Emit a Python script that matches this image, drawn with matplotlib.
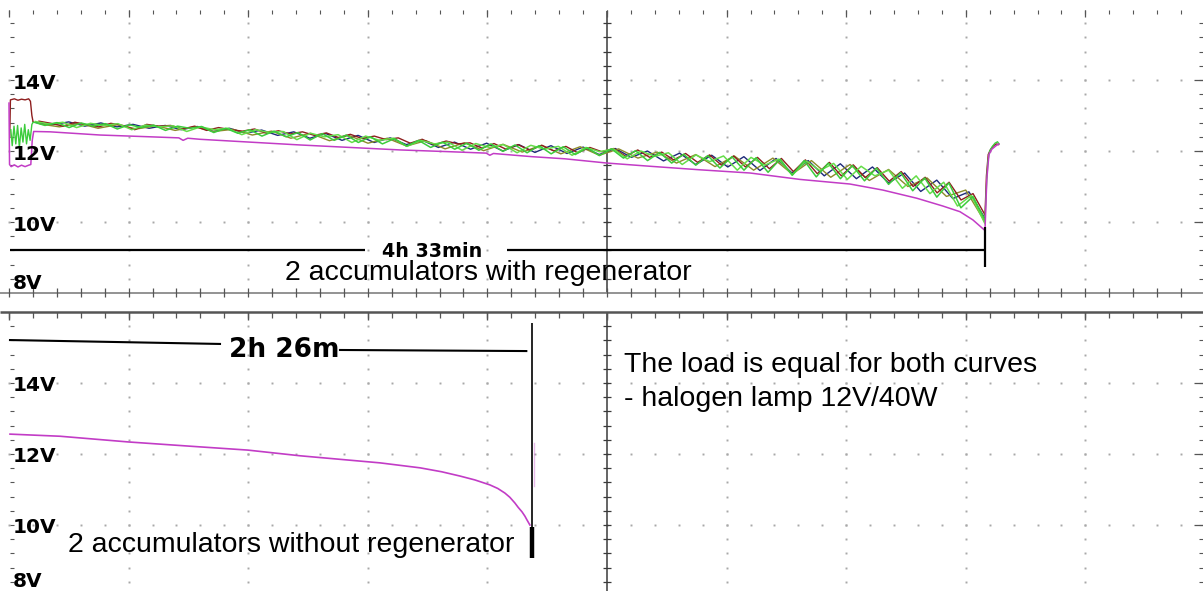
import matplotlib
matplotlib.use("Agg")

import matplotlib.pyplot as plt
import numpy as np

plt.rcParams["font.family"] = ["Liberation Sans", "DejaVu Sans"]

# ---------------- data (time in minutes, voltage in volts) ----------------
volt_labels = [14, 12, 10, 8]
run_with_regen = 273      # 4h 33min
run_without_regen = 146   # 2h 26m

# upper screen: 2 accumulators with regenerator
# start of record (charger still on) - first few minutes
maroon_start_t = [0.2, 0.4, 1.5, 2.5, 3.5, 4.5, 5.5, 6.0, 6.4, 6.7]
maroon_start_v = [12.4, 13.44, 13.47, 13.43, 13.46, 13.44, 13.47, 13.40, 13.0, 12.84]
green_start_t = [0.5, 0.9, 1.4, 1.9, 2.4, 2.9, 3.4, 3.9, 4.4, 4.9, 5.4, 5.9, 6.4, 6.7]
green_start_v = [12.6, 12.15, 12.7, 12.2, 12.72, 12.1, 12.65, 12.25, 12.75, 12.2, 12.6, 12.3,
                 12.75, 12.8]

# noisy channels, sampled evenly from BAND_T0 to BAND_T1
BAND_T0, BAND_T1 = 6.7, 273.0
green_v = [12.82, 12.72, 12.80, 12.66, 12.79, 12.70, 12.77, 12.62, 12.74, 12.66,
           12.73, 12.58, 12.70, 12.64, 12.69, 12.52, 12.64, 12.50, 12.60, 12.42,
           12.56, 12.40, 12.52, 12.31, 12.49, 12.30, 12.45, 12.24, 12.40, 12.20,
           12.35, 12.14, 12.30, 12.10, 12.25, 12.05, 12.22, 12.02, 12.20, 11.99,
           12.17, 11.95, 12.15, 11.92, 12.12, 11.90, 12.09, 11.87, 12.06, 11.80,
           12.01, 11.73, 11.96, 11.66, 11.91, 11.60, 11.87, 11.52, 11.84, 11.46,
           11.81, 11.40, 11.77, 11.32, 11.73, 11.27, 11.66, 11.22, 11.59, 11.16,
           11.52, 11.06, 11.39, 10.88, 11.24, 10.70, 11.10, 10.40, 10.72, 10.05]
lime_v = [12.83, 12.76, 12.81, 12.66, 12.78, 12.72, 12.77, 12.60, 12.73, 12.68,
          12.71, 12.55, 12.68, 12.60, 12.64, 12.46, 12.60, 12.52, 12.55, 12.32,
          12.50, 12.40, 12.46, 12.24, 12.42, 12.30, 12.36, 12.13, 12.30, 12.20,
          12.25, 12.02, 12.21, 12.10, 12.18, 11.95, 12.16, 12.05, 12.13, 11.88,
          12.10, 11.98, 12.06, 11.78, 12.00, 11.85, 11.95, 11.62, 11.89, 11.70,
          11.86, 11.46, 11.82, 11.60, 11.77, 11.32, 11.72, 11.45, 11.65, 11.20,
          11.57, 11.30, 11.46, 10.95, 11.30, 10.80, 11.12, 10.45, 10.75, 9.95]
maroon_v = [12.84, 12.78, 12.70, 12.81, 12.74, 12.68, 12.78, 12.72, 12.60, 12.75,
            12.70, 12.72, 12.62, 12.70, 12.58, 12.66, 12.60, 12.56, 12.62, 12.50,
            12.57, 12.48, 12.54, 12.44, 12.51, 12.38, 12.47, 12.35, 12.42, 12.32,
            12.37, 12.22, 12.33, 12.18, 12.28, 12.20, 12.23, 12.08, 12.21, 12.05,
            12.18, 12.02, 12.16, 12.00, 12.13, 11.95, 12.10, 11.98, 12.07, 11.85,
            12.03, 11.82, 11.97, 11.75, 11.93, 11.68, 11.89, 11.60, 11.86, 11.55,
            11.82, 11.50, 11.79, 11.42, 11.75, 11.36, 11.68, 11.30, 11.61, 11.25,
            11.53, 11.15, 11.42, 11.00, 11.26, 10.82, 11.12, 10.62, 10.80, 10.20]
navy_v = [12.80, 12.74, 12.82, 12.70, 12.79, 12.68, 12.75, 12.64, 12.72, 12.60,
          12.69, 12.55, 12.64, 12.50, 12.59, 12.44, 12.54, 12.36, 12.49, 12.30,
          12.44, 12.24, 12.37, 12.18, 12.30, 12.10, 12.25, 12.05, 12.22, 12.00,
          12.18, 11.96, 12.15, 11.93, 12.11, 11.90, 12.07, 11.82, 12.00, 11.72,
          11.94, 11.62, 11.88, 11.55, 11.84, 11.45, 11.79, 11.38, 11.73, 11.30,
          11.64, 11.22, 11.55, 11.10, 11.38, 10.86, 11.18, 10.66, 10.85, 10.10]
olive_v = [12.76, 12.68, 12.78, 12.64, 12.74, 12.62, 12.71, 12.58, 12.68, 12.55,
           12.61, 12.45, 12.56, 12.36, 12.50, 12.29, 12.44, 12.22, 12.36, 12.14,
           12.29, 12.06, 12.23, 12.01, 12.19, 11.97, 12.16, 11.92, 12.12, 11.88,
           12.06, 11.80, 11.97, 11.66, 11.90, 11.56, 11.86, 11.46, 11.80, 11.35,
           11.73, 11.26, 11.62, 11.17, 11.48, 11.00, 11.24, 10.72, 10.90, 10.00]

# recovery after the load was switched off
green_end_t = [273.0, 273.4, 273.8, 274.3, 275.0, 275.8, 276.5, 276.9]
green_end_v = [10.05, 11.0, 11.7, 12.0, 12.12, 12.22, 12.26, 12.2]
maroon_end_t = [273.0, 273.4, 273.9, 274.6, 275.4, 276.2, 276.8]
maroon_end_v = [10.20, 11.3, 11.9, 12.05, 12.15, 12.2, 12.18]

top_magenta_t = [0.0, 0.15, 0.6, 1.5, 2.5, 3.5, 4.5, 5.5, 6.1, 6.5, 6.9,
                 11.5, 25.5, 39.4, 47.5, 48.7, 50.0, 53.4, 67.4, 81.4, 95.4, 109.4, 123.3,
                 133.5, 134.5, 135.5, 146.3, 155.5, 167.3, 179.3, 193.3, 207.3, 221.2,
                 235.2, 244.4, 253.9, 261.2, 266.0, 269.6, 273.0,
                 273.5, 274.1, 274.9, 276.1, 276.9]
top_magenta_v = [13.35, 11.62, 11.56, 11.61, 11.55, 11.6, 11.56, 11.6, 11.62, 12.3, 12.55,
                 12.54, 12.45, 12.40, 12.37, 12.30, 12.36, 12.33, 12.25, 12.17, 12.10, 12.03, 11.98,
                 11.94, 11.88, 11.93, 11.84, 11.78, 11.66, 11.57, 11.47, 11.38, 11.20,
                 11.07, 10.90, 10.67, 10.45, 10.29, 10.06, 9.76,
                 11.2, 11.9, 12.05, 12.15, 12.2]

# lower screen: 2 accumulators without regenerator
bot_magenta_t = [0.28, 14.3, 33.3, 50.6, 66.8, 81.4, 92.6, 103.8, 115.0, 121.0, 126.1,
                 130.3, 134.5, 136.7, 138.7, 140.1, 141.5, 142.4, 143.5, 144.3, 144.9, 145.7]
bot_magenta_v = [12.56, 12.50, 12.34, 12.22, 12.11, 11.95, 11.85, 11.75, 11.61, 11.50, 11.38,
                 11.27, 11.13, 11.03, 10.90, 10.78, 10.62, 10.50, 10.37, 10.25, 10.14, 10.00]
bot_tail_t = [146.9, 146.9]
bot_tail_v = [12.3, 11.1]

# ---------------- screen geometry ----------------
W_PX, H_PX = 1203, 591
PX_PER_V = 35.5
MIN_PER_PX = run_with_regen / 976.0
MIN_PER_DIV = 119.6 * MIN_PER_PX
X0_PX = 9


def px_t(n):
    return n * MIN_PER_PX


def px_v(n):
    return n / PX_PER_V


t_lo = -X0_PX * MIN_PER_PX
t_hi = (W_PX - X0_PX) * MIN_PER_PX
center_t = 5 * MIN_PER_DIV
majors_t = np.arange(11) * MIN_PER_DIV
minors_t = np.arange(51) * MIN_PER_DIV / 5
minors_v = 8 + np.arange(21) * 0.4

DOT = dict(ls="none", marker="s", ms=1.4, mew=0, color="#a8a8a8")
TICK = "#555555"
AXIS = "#3a3a3a"

fig = plt.figure(figsize=(W_PX / 100, H_PX / 100), dpi=100)
ax_top = fig.add_axes([0, (H_PX - 300) / H_PX, 1, 300 / H_PX])
ax_top.set_ylim(8 - px_v(7), 8 + px_v(293))
ax_bot = fig.add_axes([0, 0, 1, 288 / H_PX])
ax_bot.set_ylim(16 - px_v(279), 16 + px_v(9))


def screen(ax, v_min, v_max):
    ax.set_xlim(t_lo, t_hi)
    ax.set_axis_off()
    vs = minors_v[(minors_v > v_min + 0.01) & (minors_v < v_max - 0.01)]
    # dotted graticule
    for t in majors_t[1:-1]:
        if abs(t - center_t) < 1e-6:
            continue
        ax.plot(np.full(len(vs), t), vs, **DOT)
    for v in (10, 12, 14):
        ax.plot(minors_t, np.full(len(minors_t), v), **DOT)
    # edge ticks
    ax.hlines(vs, px_t(1), px_t(5), color=TICK, lw=0.8)
    ax.hlines(vs, t_hi - px_t(4), t_hi, color=TICK, lw=0.8)
    ax.hlines([10, 12, 14], t_hi - px_t(9), t_hi, color=TICK, lw=0.9)
    # centre axis
    ax.vlines(center_t, v_min, v_max, color=AXIS, lw=1.1)
    ax.hlines(vs, center_t - px_t(4), center_t + px_t(4), color=AXIS, lw=0.9)


screen(ax_top, 8, 15.95)
screen(ax_bot, 8.1, 16)

# top screen: tick row at top, axis at 8V
ax_top.vlines(minors_t, 16 - px_v(5), 16 - px_v(1), color=TICK, lw=0.8)
ax_top.vlines(majors_t, 16 - px_v(8), 16 - px_v(1), color=TICK, lw=0.9)
ax_top.hlines(8, t_lo, t_hi, color="#8a8a8a", lw=1.3)
ax_top.vlines(minors_t, 8 - px_v(4), 8 + px_v(5), color=TICK, lw=0.9)

# bottom screen: axis at 16V with downward ticks
ax_bot.hlines(16, t_lo, t_hi, color="#555555", lw=1.8)
ax_bot.vlines(minors_t, 16 - px_v(6), 16, color=TICK, lw=0.9)
ax_bot.vlines(majors_t, 16 - px_v(8), 16, color=TICK, lw=1.0)

# ---------------- traces ----------------
MAGENTA = "#c23cc6"
GREEN = "#3ccc3c"
LIME = "#66dd4a"
MAROON = "#8e1e1e"
NAVY = "#1e2a7a"
OLIVE = "#8c8a2a"

step = (BAND_T1 - BAND_T0) / (len(green_v) - 1)
ax_top.plot(np.linspace(BAND_T0 + step * 0.3, BAND_T1, len(navy_v)), navy_v, color=NAVY, lw=1.0)
ax_top.plot(np.linspace(BAND_T0 + step * 0.6, BAND_T1, len(olive_v)), olive_v, color=OLIVE, lw=1.0)
ax_top.plot(np.linspace(BAND_T0 + step * 0.5, BAND_T1, len(maroon_v)), maroon_v, color=MAROON, lw=1.0)
ax_top.plot(np.linspace(BAND_T0 + step * 0.2, BAND_T1, len(lime_v)), lime_v, color=LIME, lw=1.1)
ax_top.plot(np.linspace(BAND_T0, BAND_T1, len(green_v)), green_v, color=GREEN, lw=1.1)
ax_top.plot(maroon_start_t, maroon_start_v, color=MAROON, lw=1.0)
ax_top.plot(green_start_t, green_start_v, color=GREEN, lw=1.0)
ax_top.plot(maroon_end_t, maroon_end_v, color=MAROON, lw=1.0)
ax_top.plot(green_end_t, green_end_v, color=GREEN, lw=1.0)
ax_top.plot(top_magenta_t, top_magenta_v, color=MAGENTA, lw=1.1)

ax_bot.plot(bot_magenta_t, bot_magenta_v, color=MAGENTA, lw=1.2)
ax_bot.plot(bot_tail_t, bot_tail_v, color=MAGENTA, lw=1.0, alpha=0.35)

# ---------------- annotations ----------------
LBL = dict(family="DejaVu Sans", fontweight="bold", fontsize=14.5, ha="left", va="baseline")
for v in volt_labels:
    ax_top.text(px_t(4), v - 0.24 if v > 8 else 8.12, f"{v}V", **LBL)
    ax_bot.text(px_t(4), v - 0.22 if v > 8 else 8.24, f"{v}V", **LBL)

# duration marker, upper screen
dim_v = 9.21
ax_top.hlines(dim_v, px_t(1), px_t(356), color="black", lw=1.6)
ax_top.hlines(dim_v, px_t(498), run_with_regen, color="black", lw=1.6)
ax_top.vlines(run_with_regen, 8.73, 9.86, color="black", lw=1.6)
ax_top.text(px_t(373), 9.01, f"{run_with_regen // 60}h {run_with_regen % 60}min",
            family="DejaVu Sans", fontweight="bold", fontsize=13.8, ha="left", va="baseline")
ax_top.text(px_t(276), 8.37, "2 accumulators with regenerator",
            fontsize=20.5, ha="left", va="baseline")

# duration marker, lower screen
ax_bot.plot([px_t(1), px_t(211)], [15.21, 15.10], color="black", lw=1.5)
ax_bot.plot([px_t(331), run_without_regen - 1.3], [14.93, 14.90], color="black", lw=1.5)
ax_bot.vlines(run_without_regen + 0.3, 9.94, 15.69, color="black", lw=1.2)
ax_bot.vlines(run_without_regen + 0.3, 9.07, 9.94, color="black", lw=3.2)
ax_bot.text(px_t(220), 14.73, f"{run_without_regen // 60}h {run_without_regen % 60}m",
            family="DejaVu Sans", fontweight="bold", fontsize=19, ha="left", va="baseline")
ax_bot.text(px_t(59), 9.24, "2 accumulators without regenerator",
            fontsize=20.5, ha="left", va="baseline")

ax_bot.text(px_t(615), 14.31, "The load is equal for both curves",
            fontsize=20.5, ha="left", va="baseline")
ax_bot.text(px_t(615), 13.35, "- halogen lamp 12V/40W",
            fontsize=20.5, ha="left", va="baseline")

fig.savefig("out.png", dpi=100, facecolor="white")
plt.close(fig)
